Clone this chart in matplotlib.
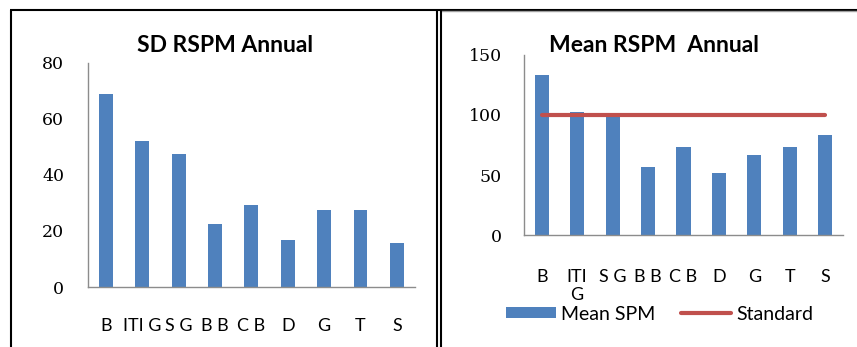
import matplotlib
matplotlib.use("Agg")
import matplotlib.pyplot as plt
from matplotlib.lines import Line2D
from matplotlib.patches import Patch

# Monitoring sites
sites_left = ["B", "ITI G", "S G", "B B", "C B", "D", "G", "T", "S"]
sites_right = ["B", "ITI\nG", "S G", "B B", "C B", "D", "G", "T", "S"]

# Annual RSPM statistics per site
sd_rspm = [68.9, 52.0, 47.4, 22.3, 29.2, 16.8, 27.3, 27.3, 15.8]
mean_rspm = [133.4, 102.7, 100.0, 57.0, 73.1, 51.5, 66.4, 73.1, 83.6]
standard = [100] * 9

left_ticks = [0, 20, 40, 60, 80]
right_ticks = [0, 50, 100, 150]

BLUE = "#4F81BD"
RED = "#C0504D"
SPINE = "#8C8C8C"

W, H = 857, 347
fig = plt.figure(figsize=(W / 100, H / 100), dpi=100)


def box(x0, x1, ytop, ybot):
    return [x0 / W, 1 - ybot / H, (x1 - x0) / W, (ybot - ytop) / H]


def style(ax, ticks, ymax, xpad, ypad):
    ax.set_ylim(0, ymax)
    ax.set_xlim(-0.5, 8.5)
    ax.set_yticks(ticks)
    for s in ("top", "right"):
        ax.spines[s].set_visible(False)
    for s in ("left", "bottom"):
        ax.spines[s].set_color(SPINE)
        ax.spines[s].set_linewidth(1.0)
    ax.tick_params(length=0)
    ax.tick_params(axis="y", pad=ypad)
    ax.tick_params(axis="x", pad=xpad)
    for lab in ax.get_yticklabels():
        lab.set_fontfamily("DejaVu Serif")
        lab.set_fontsize(12.5)
    for lab in ax.get_xticklabels():
        lab.set_fontfamily("Lato")
        lab.set_fontsize(13)
        lab.set_linespacing(1.2)


# Left: standard deviation
ax1 = fig.add_axes(box(87.7, 415, 62.7, 287))
x = list(range(len(sites_left)))
ax1.bar(x, sd_rspm, width=0.38, color=BLUE, zorder=2)
ax1.set_xticks(x)
ax1.set_xticklabels(sites_left)
style(ax1, left_ticks, 80, 22, 17)
fig.text(225 / W, 1 - 46 / H, "SD RSPM Annual", ha="center", va="center",
         fontfamily="Lato", fontweight="bold", fontsize=16.5)

# Right: mean with standard limit
ax2 = fig.add_axes(box(524, 843, 54.7, 235.3))
ax2.bar(x, mean_rspm, width=0.395, color=BLUE, zorder=2)
ax2.plot(x, standard, color=RED, linewidth=3.0, solid_capstyle="round", zorder=3)
ax2.set_xticks(x)
ax2.set_xticklabels(sites_right)
style(ax2, right_ticks, 150, 24, 16)
fig.text(653.5 / W, 1 - 46 / H, "Mean RSPM  Annual", ha="center", va="center",
         fontfamily="Lato", fontweight="bold", fontsize=16.5)

handles = [Patch(facecolor=BLUE, edgecolor="none"),
           Line2D([0], [0], color=RED, linewidth=3.0, solid_capstyle="round")]
fig.legend(handles, ["Mean SPM", "Standard"], loc="center",
           bbox_to_anchor=(659.5 / W, 1 - 314 / H), ncol=2, frameon=False,
           prop={"family": "Lato", "size": 14}, handlelength=2.6,
           handleheight=0.5, handletextpad=0.25, columnspacing=1.3,
           borderpad=0, borderaxespad=0)

# Page frame lines
def fline(xs, ys, color="black", lw=1.5):
    fig.add_artist(Line2D([v / W for v in xs], [1 - v / H for v in ys],
                          color=color, linewidth=lw, solid_capstyle="butt"))

fline([10, 857], [9.8, 9.8])
fline([441, 857], [11.2, 11.2], color="#A0A0A0", lw=1.0)
fline([11, 11], [9.5, 347])
fline([437.3, 437.3], [9.5, 347])
fline([440.7, 440.7], [9.5, 347])

fig.savefig("out.png", dpi=100)
